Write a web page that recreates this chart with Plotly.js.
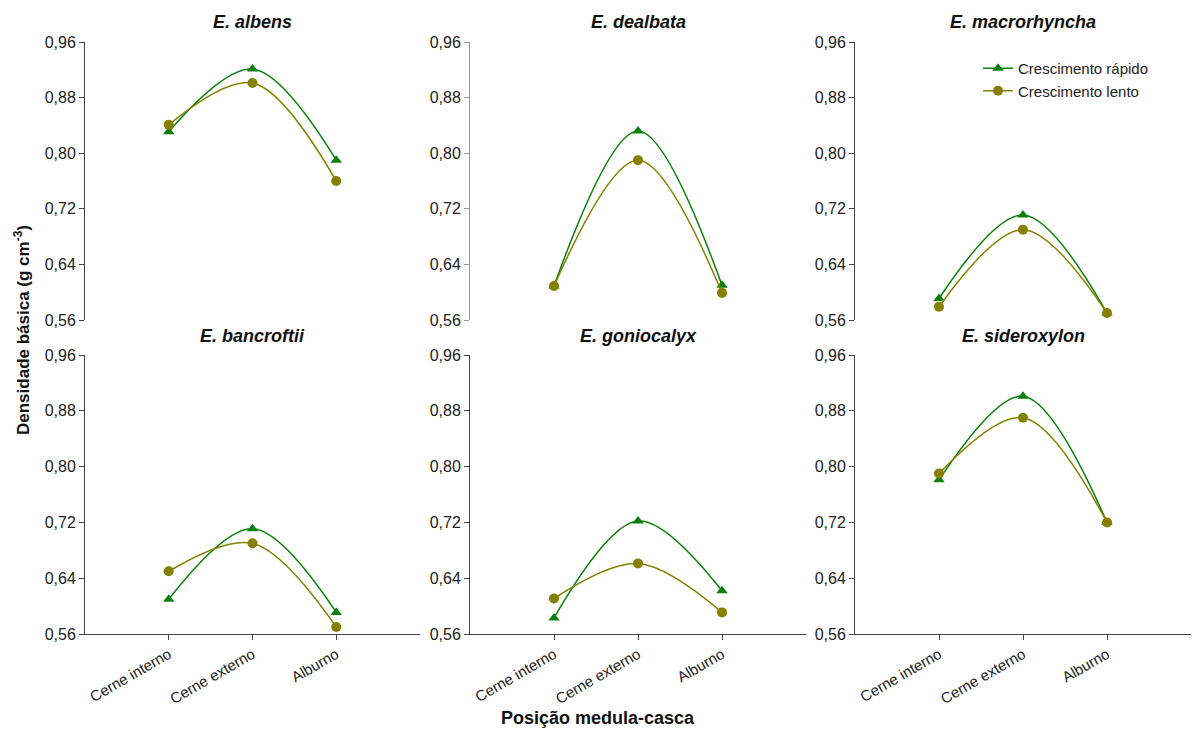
<!DOCTYPE html>
<html>
<head>
<meta charset="utf-8">
<script src="https://cdn.plot.ly/plotly-3.0.1.min.js"></script>
<style>html,body{margin:0;padding:0;background:#fff;}#chart{width:1193px;height:731px;}</style>
</head>
<body>
<div id="chart"></div>
<script>
// ---- data ----
const categories = ['Cerne interno', 'Cerne externo', 'Alburno'];
const species = ['E. albens', 'E. dealbata', 'E. macrorhyncha', 'E. bancroftii', 'E. goniocalyx', 'E. sideroxylon'];
const seriesNames = ['Crescimento rápido', 'Crescimento lento'];
const yTicks = [0.56, 0.64, 0.72, 0.80, 0.88, 0.96];

const albensRapido       = [0.831, 0.921, 0.790];
const albensLento        = [0.841, 0.901, 0.760];
const dealbataRapido     = [0.609, 0.832, 0.610];
const dealbataLento      = [0.609, 0.790, 0.599];
const macrorhynchaRapido = [0.591, 0.711, 0.570];
const macrorhynchaLento  = [0.579, 0.690, 0.570];
const bancroftiiRapido   = [0.610, 0.711, 0.591];
const bancroftiiLento    = [0.650, 0.690, 0.570];
const goniocalyxRapido   = [0.583, 0.722, 0.622];
const goniocalyxLento    = [0.611, 0.661, 0.591];
const sideroxylonRapido  = [0.781, 0.901, 0.720];
const sideroxylonLento   = [0.790, 0.870, 0.720];

const rapidoSeries = [albensRapido, dealbataRapido, macrorhynchaRapido, bancroftiiRapido, goniocalyxRapido, sideroxylonRapido];
const lentoSeries  = [albensLento, dealbataLento, macrorhynchaLento, bancroftiiLento, goniocalyxLento, sideroxylonLento];

// ---- layout geometry ----
const W = 1193, H = 731;
const colPx = [[85, 420], [470, 806], [855, 1191]];
const rowPx = [[42, 320], [355, 634]];
const GREEN = '#0a800a', OLIVE = '#858000';
const FONT = 'Liberation Sans, Arial, sans-serif';

const traces = [];
const layout = {
  width: W, height: H,
  margin: {l: 0, r: 0, t: 0, b: 0},
  paper_bgcolor: '#fff', plot_bgcolor: '#fff',
  separators: ',.',
  font: {family: FONT, size: 14, color: '#222'},
  showlegend: true,
  legend: {x: 978 / W, y: 1 - 52 / H, xanchor: 'left', yanchor: 'top',
           font: {family: FONT, size: 15, color: '#222'}, bgcolor: 'rgba(0,0,0,0)', tracegroupgap: 0},
  annotations: []
};

species.forEach((sp, i) => {
  const r = Math.floor(i / 3), c = i % 3;
  const n = i + 1;
  const xa = 'x' + (n === 1 ? '' : n), ya = 'y' + (n === 1 ? '' : n);
  const xk = 'xaxis' + (n === 1 ? '' : n), yk = 'yaxis' + (n === 1 ? '' : n);
  const bottom = r === 1;
  traces.push({
    x: categories, y: rapidoSeries[i], xaxis: xa, yaxis: ya, type: 'scatter', mode: 'lines+markers',
    name: seriesNames[0], legendgroup: 'r', showlegend: i === 0,
    line: {color: GREEN, width: 1.5, shape: 'spline', smoothing: 1},
    marker: {symbol: 'triangle-up', size: 10, color: GREEN}
  });
  traces.push({
    x: categories, y: lentoSeries[i], xaxis: xa, yaxis: ya, type: 'scatter', mode: 'lines+markers',
    name: seriesNames[1], legendgroup: 'l', showlegend: i === 0,
    line: {color: OLIVE, width: 1.5, shape: 'spline', smoothing: 1},
    marker: {symbol: 'circle', size: 10, color: OLIVE}
  });
  layout[xk] = {
    domain: [colPx[c][0] / W, colPx[c][1] / W],
    anchor: ya, type: 'category', range: [-1, 3],
    showgrid: false, zeroline: false,
    showline: bottom, linecolor: '#444', linewidth: 1,
    ticks: bottom ? 'outside' : '', ticklen: 5, tickcolor: '#444',
    showticklabels: bottom, tickangle: -30,
    tickfont: {family: FONT, size: 15, color: '#222'},
    fixedrange: true
  };
  layout[yk] = {
    domain: [1 - rowPx[r][1] / H, 1 - rowPx[r][0] / H],
    anchor: xa, range: [0.56, 0.96],
    tickvals: yTicks, tickformat: '.2f',
    showgrid: false, zeroline: false,
    showline: true, linecolor: (i === 1 ? '#999' : '#444'), linewidth: 1,
    ticks: 'outside', ticklen: 5, tickcolor: (i === 1 ? '#999' : '#444'),
    tickfont: {family: FONT, size: 16, color: '#222'},
    fixedrange: true
  };
  layout.annotations.push({
    text: '<b><i>' + sp + '</i></b>', xref: 'paper', yref: 'paper',
    x: (colPx[c][0] + colPx[c][1]) / 2 / W, y: 1 - (r === 0 ? 22 : 336) / H,
    xanchor: 'center', yanchor: 'middle', showarrow: false,
    font: {family: FONT, size: 18, color: '#111'}
  });
});

layout.annotations.push({
  text: '<b>Densidade básica (g cm<sup>-3</sup>)</b>', xref: 'paper', yref: 'paper',
  x: 22 / W, y: 1 - 330 / H, xanchor: 'center', yanchor: 'middle', textangle: -90,
  showarrow: false, font: {family: FONT, size: 17, color: '#111'}
});
layout.annotations.push({
  text: '<b>Posição medula-casca</b>', xref: 'paper', yref: 'paper',
  x: 598 / W, y: 1 - 718 / H, xanchor: 'center', yanchor: 'middle',
  showarrow: false, font: {family: FONT, size: 18, color: '#111'}
});

Plotly.newPlot('chart', traces, layout, {displayModeBar: false, staticPlot: true});
</script>
</body>
</html>
